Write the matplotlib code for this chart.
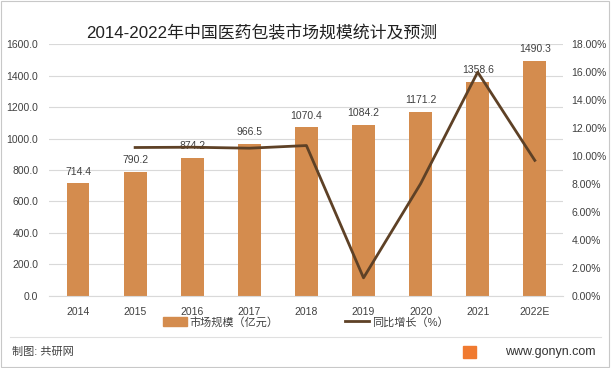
import matplotlib.pyplot as plt
from matplotlib.patches import Rectangle
from matplotlib.lines import Line2D

plt.rcParams["font.family"] = ["Liberation Sans", "Noto Sans CJK SC", "DejaVu Sans"]

# Data
years = ["2014", "2015", "2016", "2017", "2018", "2019", "2020", "2021", "2022E"]
market_size = [714.4, 790.2, 874.2, 966.5, 1070.4, 1084.2, 1171.2, 1358.6, 1490.3]
growth_years = ["2015", "2016", "2017", "2018", "2019", "2020", "2021", "2022E"]
growth = [10.61, 10.63, 10.56, 10.75, 1.29, 8.02, 16.00, 9.69]

bar_color = "#D48C4E"
line_color = "#5E4126"
text_color = "#404040"

fig = plt.figure(figsize=(6.11, 3.68), dpi=100)
ax = fig.add_axes([0.081, 0.196, 0.841, 0.684])
x = list(range(len(years)))

ax.bar(x, market_size, width=0.4, color=bar_color, zorder=2)
for xi, v in zip(x, market_size):
    ax.annotate(f"{v:.1f}", (xi, v), xytext=(0, 5), textcoords="offset points",
                ha="center", va="bottom", fontsize=7.5, color=text_color)

ax.set_ylim(0, 1600)
ax.set_yticks(range(0, 1601, 200))
ax.set_yticklabels([f"{t:.1f}" for t in range(0, 1601, 200)])
ax.set_xlim(-0.5, len(years) - 0.5)
ax.set_xticks(x)
ax.set_xticklabels(years)
ax.grid(axis="y", color="#D9D9D9", linewidth=0.8, zorder=0)
ax.set_axisbelow(True)
for s in ["top", "right", "left"]:
    ax.spines[s].set_visible(False)
ax.spines["bottom"].set_color("#D9D9D9")
ax.tick_params(axis="both", length=0, labelsize=7.5, colors=text_color)
ax.tick_params(axis="y", pad=8)
ax.tick_params(axis="x", pad=8)

ax2 = ax.twinx()
gx = [years.index(y) for y in growth_years]
ax2.plot(gx, growth, color=line_color, linewidth=2, zorder=3)
ax2.set_ylim(0, 18)
ax2.set_yticks(range(0, 19, 2))
ax2.set_yticklabels([f"{t:.2f}%" for t in range(0, 19, 2)])
for s in ["top", "right", "left", "bottom"]:
    ax2.spines[s].set_visible(False)
ax2.tick_params(axis="y", length=0, labelsize=7.5, colors=text_color, pad=6)

fig.text(0.429, 0.91, "2014-2022年中国医药包装市场规模统计及预测", ha="center",
         va="center", fontsize=12.2, color="#222222")

handles = [Rectangle((0, 0), 1, 1, color=bar_color),
           Line2D([0], [0], color=line_color, linewidth=2)]
fig.legend(handles, ["市场规模（亿元）", "同比增长（%）"], loc="center",
           bbox_to_anchor=(0.5, 0.125), ncol=2, frameon=False, fontsize=8,
           handlelength=2.2, handleheight=0.8, columnspacing=6, handletextpad=0.2,
           labelcolor=text_color)

fig.add_artist(Line2D([0.016, 0.984], [0.084, 0.084], color="#E0E0E0", linewidth=0.8))
fig.text(0.02, 0.043, "制图: 共研网", fontsize=8, color=text_color, va="center")
fig.add_artist(Rectangle((0.757, 0.027), 0.022, 0.034, color="#F07A30"))
fig.text(0.974, 0.043, "www.gonyn.com", fontsize=9, color="#333333", va="center", ha="right")
fig.add_artist(Rectangle((0.002, 0.003), 0.995, 0.993, fill=False, edgecolor="#C8C8C8",
                         linewidth=0.8))

fig.savefig("out.png", dpi=100)
